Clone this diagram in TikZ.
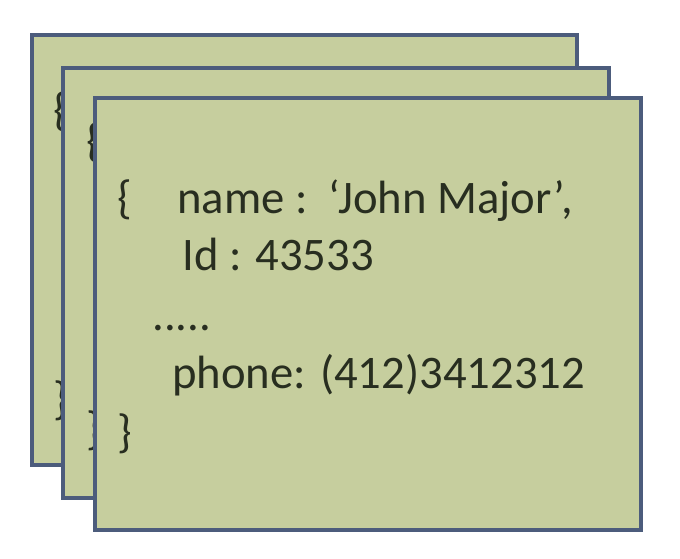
\documentclass[tikz,border=0pt]{standalone}
\usepackage{fontspec}
\setmainfont{Carlito}
\usepackage{tikz}
\usetikzlibrary{calc}

\definecolor{cardfill}{RGB}{198,206,158}
\definecolor{cardline}{RGB}{76,92,124}
\definecolor{ink}{RGB}{40,46,32}

\tikzset{
  card/.style={draw=cardline, line width=3pt, fill=cardfill},
  doc/.style={anchor=base west, inner sep=0pt, text=ink, font=\fontsize{35}{42}\selectfont}
}

\begin{document}
\begin{tikzpicture}[x=0.75pt, y=0.75pt]

\useasboundingbox (0,0) rectangle (680,558);

% back card
\draw[card] (32,93) rectangle (577,523);
\node[doc] (backopen) at (53,432) {\{};
\node[doc] (backclose) at (53,144) {\}};

% middle card
\draw[card] (63,60) rectangle (609,490);
\node[doc] (midopen) at (86,402) {\{};
\node[doc] (midclose) at (86,114) {\}};

% front card
\draw[card] (95,28) rectangle (641,460);
\node[doc] (open) at (117,345) {\{};
\node[doc] (name) at (177,345) {name :\ \ ‘John Major’,};
\node[doc] (id) at (182,288) {Id : 43533};
\node[doc] (dots) at (152,228) {.....};
\node[doc] (phone) at (172,170) {phone: (412)3412312};
\node[doc] (close) at (117,111) {\}};

\end{tikzpicture}
\end{document}
